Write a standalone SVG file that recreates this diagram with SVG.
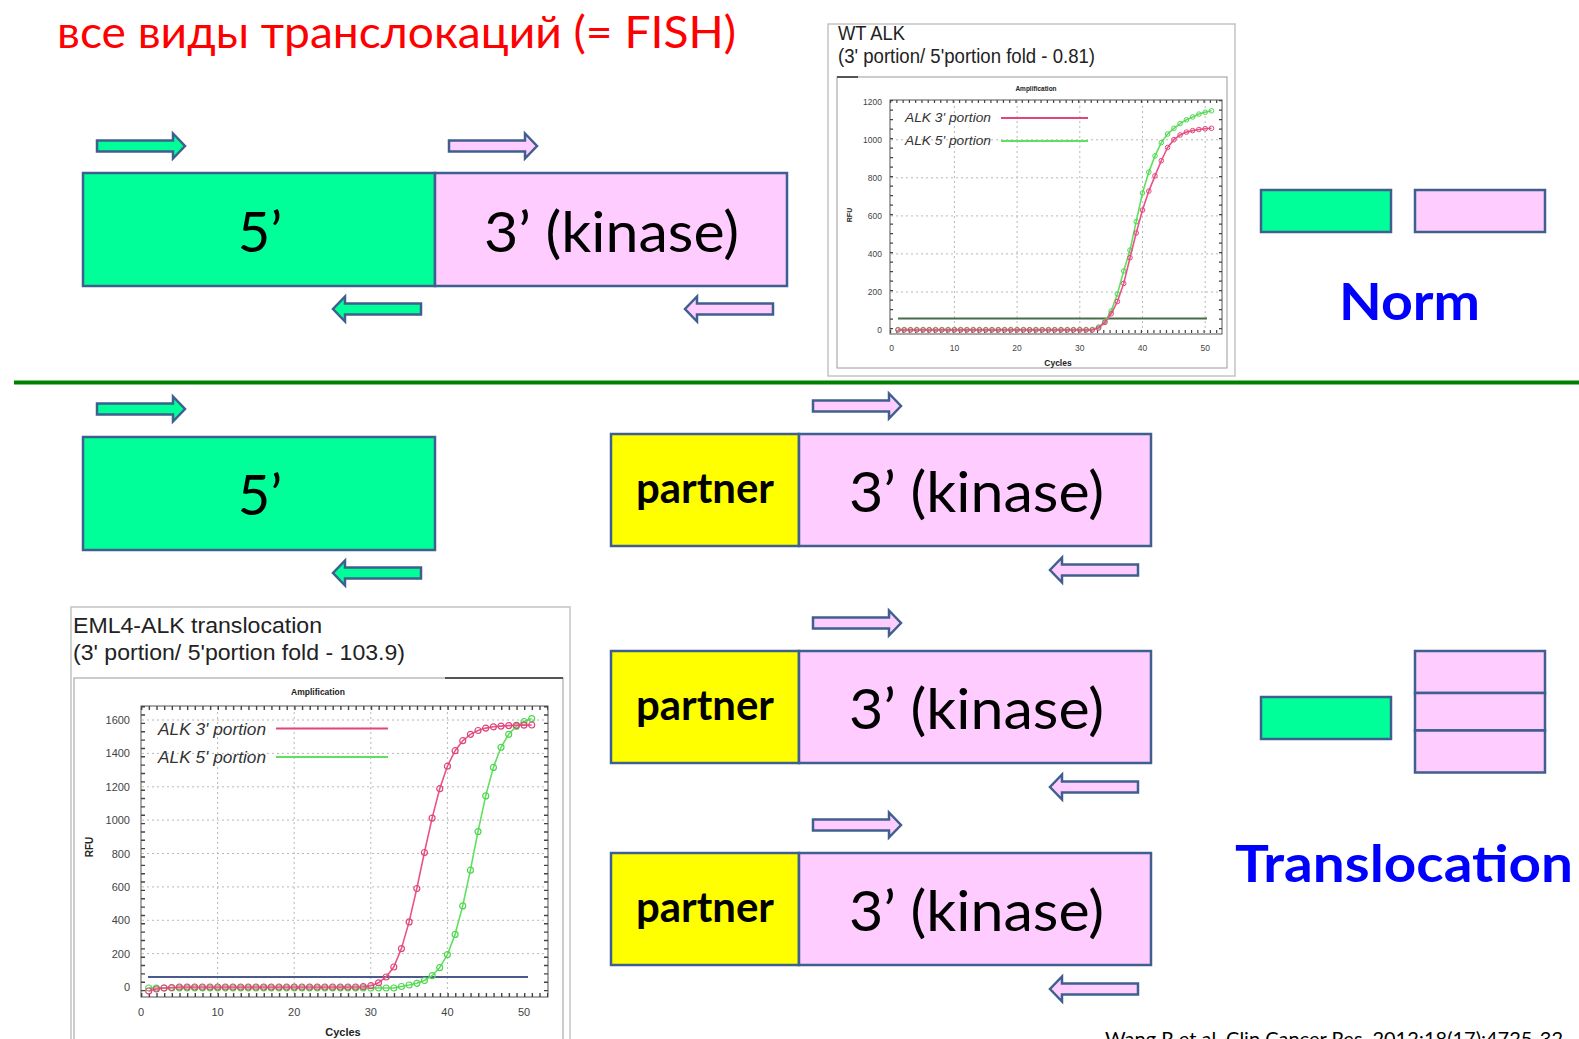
<svg xmlns="http://www.w3.org/2000/svg" xmlns:xlink="http://www.w3.org/1999/xlink" width="1579" height="1039" viewBox="0 0 1579 1039">
  <style>
    .g{fill:#00FF99}
    .p{fill:#FFCCFF}
    .y{fill:#FFFF00}
    .box{stroke:#3f5f8f;stroke-width:2.5}
    .arrow{stroke:#3f5f8f;stroke-width:2.5;stroke-linejoin:miter}
    .big{font-family:Lato,'Noto Sans',sans-serif;font-size:56px;fill:#000}
    .partner{font-family:Lato,'Noto Sans',sans-serif;font-weight:bold;font-size:42px;fill:#000}
    .tag{font-family:Lato,'Noto Sans',sans-serif;font-weight:bold;font-size:52px;fill:#0000FF}
    .ax{font-family:'Liberation Sans',Arial,sans-serif;fill:#444}
    .cap{font-family:'Liberation Sans',Arial,sans-serif;fill:#222}
    .leg{font-family:'Liberation Sans',Arial,sans-serif;font-style:italic;fill:#333}
    .grid{stroke:#b8b8b8;stroke-width:1;stroke-dasharray:2 3;fill:none}
    .frame{fill:#fff;stroke:#c4c4c4;stroke-width:1.5}
    .plot{fill:none;stroke:#555;stroke-width:1}
    .c3{fill:none;stroke:#e8538a;stroke-width:1.6}
    .c5{fill:none;stroke:#5fe05f;stroke-width:1.6}
  </style>
  <defs>
    <path id="arR" d="M-88,-5.5H-12V-12.5L0,0L-12,12.5V5.5H-88Z"/>
    <path id="arL" d="M88,-5.5H12V-12.5L0,0L12,12.5V5.5H88Z"/>
    <marker id="dP" markerWidth="9" markerHeight="9" refX="4.5" refY="4.5" markerUnits="userSpaceOnUse">
      <circle cx="4.5" cy="4.5" r="3" fill="none" stroke="#e0457b" stroke-width="1.2"/>
    </marker>
    <marker id="dG" markerWidth="9" markerHeight="9" refX="4.5" refY="4.5" markerUnits="userSpaceOnUse">
      <circle cx="4.5" cy="4.5" r="3" fill="none" stroke="#4fd64f" stroke-width="1.2"/>
    </marker>
    <marker id="sP" markerWidth="7" markerHeight="7" refX="3.5" refY="3.5" markerUnits="userSpaceOnUse">
      <circle cx="3.5" cy="3.5" r="2.3" fill="none" stroke="#e0457b" stroke-width="1"/>
    </marker>
    <marker id="sG" markerWidth="7" markerHeight="7" refX="3.5" refY="3.5" markerUnits="userSpaceOnUse">
      <circle cx="3.5" cy="3.5" r="2.3" fill="none" stroke="#4fd64f" stroke-width="1"/>
    </marker>
  </defs>

  <rect width="1579" height="1039" fill="#fff"/>

  <!-- heading -->
  <g id="title">
    <text x="57" y="48" font-family="Lato,'Noto Sans','Open Sans',sans-serif" font-size="44" fill="#FF0000" textLength="679" lengthAdjust="spacingAndGlyphs">все виды транслокаций (= FISH)</text>
  </g>

  <!-- normal gene: 5' and 3' parts -->
  <g id="norm-5prime">
    <rect x="83" y="173" width="352" height="113" class="g box"/>
    <text x="260" y="252" class="big" text-anchor="middle">5’</text>
  </g>
  <g id="norm-3prime">
    <rect x="435" y="173" width="352" height="113" class="p box"/>
    <text x="484" y="252" class="big" textLength="255" lengthAdjust="spacingAndGlyphs">3’ (kinase)</text>
  </g>

  <!-- separator -->
  <line x1="14" y1="382.5" x2="1579" y2="382.5" stroke="#008000" stroke-width="4"/>

  <!-- translocated gene -->
  <g id="trans-5prime">
    <rect x="83" y="437" width="352" height="113" class="g box"/>
    <text x="260" y="515" class="big" text-anchor="middle">5’</text>
  </g>
  <g id="fusion-1">
    <rect x="611" y="434" width="188" height="112" class="y box"/>
    <rect x="799" y="434" width="352" height="112" class="p box"/>
    <text x="636" y="503" class="partner" textLength="138" lengthAdjust="spacingAndGlyphs">partner</text>
    <text x="849" y="512" class="big" textLength="255" lengthAdjust="spacingAndGlyphs">3’ (kinase)</text>
  </g>
  <g id="fusion-2">
    <rect x="611" y="651" width="188" height="112" class="y box"/>
    <rect x="799" y="651" width="352" height="112" class="p box"/>
    <text x="636" y="720" class="partner" textLength="138" lengthAdjust="spacingAndGlyphs">partner</text>
    <text x="849" y="729" class="big" textLength="255" lengthAdjust="spacingAndGlyphs">3’ (kinase)</text>
  </g>
  <g id="fusion-3">
    <rect x="611" y="853" width="188" height="112" class="y box"/>
    <rect x="799" y="853" width="352" height="112" class="p box"/>
    <text x="636" y="922" class="partner" textLength="138" lengthAdjust="spacingAndGlyphs">partner</text>
    <text x="849" y="931" class="big" textLength="255" lengthAdjust="spacingAndGlyphs">3’ (kinase)</text>
  </g>

  <!-- primer arrows -->
  <g id="primers">
    <use xlink:href="#arR" x="185" y="146" class="g arrow"/>
    <use xlink:href="#arR" x="537" y="146" class="p arrow"/>
    <use xlink:href="#arL" x="333" y="309" class="g arrow"/>
    <use xlink:href="#arL" x="685" y="309" class="p arrow"/>
    <use xlink:href="#arR" x="185" y="409" class="g arrow"/>
    <use xlink:href="#arL" x="333" y="573" class="g arrow"/>
    <use xlink:href="#arR" x="901" y="406" class="p arrow"/>
    <use xlink:href="#arL" x="1050" y="570" class="p arrow"/>
    <use xlink:href="#arR" x="901" y="623" class="p arrow"/>
    <use xlink:href="#arL" x="1050" y="787" class="p arrow"/>
    <use xlink:href="#arR" x="901" y="825" class="p arrow"/>
    <use xlink:href="#arL" x="1050" y="989" class="p arrow"/>
  </g>

  <!-- copy-number summary, normal -->
  <g id="norm-summary">
    <rect x="1261" y="190" width="130" height="42" class="g box" stroke-width="3"/>
    <rect x="1415" y="190" width="130" height="42" class="p box" stroke-width="3"/>
    <text x="1339" y="320" class="tag" textLength="141" lengthAdjust="spacingAndGlyphs">Norm</text>
  </g>

  <!-- copy-number summary, translocation -->
  <g id="trans-summary">
    <rect x="1261" y="697" width="130" height="42" class="g box" stroke-width="3"/>
    <rect x="1415" y="651" width="130" height="42" class="p box" stroke-width="3"/>
    <rect x="1415" y="693" width="130" height="37.5" class="p box" stroke-width="3"/>
    <rect x="1415" y="730.5" width="130" height="42" class="p box" stroke-width="3"/>
    <text x="1235" y="882" class="tag" textLength="338" lengthAdjust="spacingAndGlyphs">Translocation</text>
  </g>

  <!-- qPCR chart: wild-type ALK -->
  <g id="chart-wt">
    <rect x="828" y="24" width="407" height="352" class="frame"/>
    <text x="838" y="40" class="cap" font-size="20" textLength="67" lengthAdjust="spacingAndGlyphs">WT ALK</text>
    <text x="838" y="63" class="cap" font-size="20" textLength="257" lengthAdjust="spacingAndGlyphs">(3' portion/ 5'portion fold - 0.81)</text>
    <rect x="837" y="77" width="390" height="291" fill="#fff" stroke="#999" stroke-width="1"/>
    <line x1="837" y1="77" x2="858" y2="77" stroke="#555" stroke-width="2"/>
    <text x="1036" y="91" class="cap" font-size="6.5" font-weight="bold" text-anchor="middle">Amplification</text>
    <g class="grid">
      <path d="M954.4,101V332M1017.1,101V332M1079.8,101V332M1142.5,101V332M1205.2,101V332"/>
      <path d="M891,139.8H1222M891,177.8H1222M891,215.9H1222M891,253.9H1222M891,292H1222"/>
    </g>
    <rect x="890" y="100" width="332" height="234" class="plot"/>
    <line x1="890" y1="331.5" x2="1222" y2="331.5" stroke="#444" stroke-width="3" stroke-dasharray="1.2 5.07"/>
    <line x1="891.5" y1="100" x2="891.5" y2="334" stroke="#444" stroke-width="3" stroke-dasharray="1.2 8.3"/>
    <line x1="1220.5" y1="100" x2="1220.5" y2="334" stroke="#444" stroke-width="3" stroke-dasharray="1.2 8.3"/>
    <line x1="890" y1="101.5" x2="1222" y2="101.5" stroke="#444" stroke-width="3" stroke-dasharray="1.2 5.07"/>
    <g class="ax" font-size="8.5" text-anchor="end">
      <text x="882" y="104.5">1200</text>
      <text x="882" y="142.6">1000</text>
      <text x="882" y="180.6">800</text>
      <text x="882" y="218.7">600</text>
      <text x="882" y="256.7">400</text>
      <text x="882" y="294.8">200</text>
      <text x="882" y="332.8">0</text>
    </g>
    <g class="ax" font-size="8.5" text-anchor="middle">
      <text x="891.7" y="351">0</text>
      <text x="954.4" y="351">10</text>
      <text x="1017.1" y="351">20</text>
      <text x="1079.8" y="351">30</text>
      <text x="1142.5" y="351">40</text>
      <text x="1205.2" y="351">50</text>
    </g>
    <text x="1058" y="366" class="cap" font-size="8.5" font-weight="bold" text-anchor="middle">Cycles</text>
    <text transform="translate(852,215) rotate(-90)" class="cap" font-size="7" font-weight="bold" text-anchor="middle">RFU</text>
    <text x="905" y="122" class="leg" font-size="13.5" textLength="86" lengthAdjust="spacingAndGlyphs">ALK 3' portion</text>
    <line x1="1001" y1="118" x2="1088" y2="118" stroke="#e0457b" stroke-width="2"/>
    <text x="905" y="145" class="leg" font-size="13.5" textLength="86" lengthAdjust="spacingAndGlyphs">ALK 5' portion</text>
    <line x1="1001" y1="141" x2="1088" y2="141" stroke="#5fe05f" stroke-width="2"/>
    <line x1="898" y1="318.5" x2="1207" y2="318.5" stroke="#4b6b4b" stroke-width="2"/>
    <polyline class="c5" marker-start="url(#sG)" marker-mid="url(#sG)" marker-end="url(#sG)" points="898,329.5 904.2,329.5 910.5,329.5 916.8,329.5 923.1,329.5 929.3,329.5 935.6,329.5 941.9,329.5 948.1,329.5 954.4,329.5 960.7,329.5 966.9,329.5 973.2,329.5 979.5,329.5 985.8,329.5 992,329.5 998.3,329.5 1004.6,329.5 1010.8,329.5 1017.1,329.5 1023.4,329.5 1029.6,329.5 1035.9,329.5 1042.2,329.5 1048.5,329.5 1054.7,329.5 1061,329.5 1067.3,329.5 1073.5,329.5 1079.8,329.5 1086.1,329.5 1092.3,329.5 1098.6,327.1 1104.9,321.4 1111.2,311 1117.4,293.9 1123.7,271 1130,250.1 1136.2,221.6 1142.5,193 1148.8,172.1 1155,155.9 1161.3,142.6 1167.6,134 1173.9,128.3 1180.1,123.6 1186.4,119.8 1192.7,116.9 1198.9,114.1 1205.2,112.2 1211.5,110.8"/>
    <polyline class="c3" marker-start="url(#sP)" marker-mid="url(#sP)" marker-end="url(#sP)" points="898,330 904.2,330 910.5,330 916.8,330 923.1,330 929.3,330 935.6,330 941.9,330 948.1,330 954.4,330 960.7,330 966.9,330 973.2,330 979.5,330 985.8,330 992,330 998.3,330 1004.6,330 1010.8,330 1017.1,330 1023.4,330 1029.6,330 1035.9,330 1042.2,330 1048.5,330 1054.7,330 1061,330 1067.3,330 1073.5,330 1079.8,330 1086.1,330 1092.3,330 1098.6,328.1 1104.9,322.4 1111.2,313.8 1117.4,301.5 1123.7,283.4 1130,257.7 1136.2,233 1142.5,210.1 1148.8,191.1 1155,175.9 1161.3,160.7 1167.6,147.4 1173.9,139.7 1180.1,135 1186.4,132.1 1192.7,130.6 1198.9,129.5 1205.2,128.7 1211.5,128.3"/>
  </g>

  <!-- qPCR chart: EML4-ALK translocation -->
  <g id="chart-eml4">
    <rect x="71" y="607" width="499" height="450" class="frame"/>
    <text x="73" y="633" class="cap" font-size="22" textLength="249" lengthAdjust="spacingAndGlyphs">EML4-ALK translocation</text>
    <text x="73" y="660" class="cap" font-size="22" textLength="332" lengthAdjust="spacingAndGlyphs">(3' portion/ 5'portion fold - 103.9)</text>
    <rect x="74" y="678" width="489" height="380" fill="#fff" stroke="#999" stroke-width="1"/>
    <line x1="445" y1="678" x2="563" y2="678" stroke="#555" stroke-width="2"/>
    <text x="318" y="695" class="cap" font-size="8.5" font-weight="bold" text-anchor="middle">Amplification</text>
    <g class="grid">
      <path d="M217.6,707V996M294.2,707V996M370.8,707V996M447.4,707V996"/>
      <path d="M142,720H547M142,753.4H547M142,786.8H547M142,820.1H547M142,853.5H547M142,886.9H547M142,920.3H547M142,953.6H547"/>
    </g>
    <rect x="141" y="706" width="407" height="291" class="plot"/>
    <line x1="141" y1="995" x2="548" y2="995" stroke="#444" stroke-width="4" stroke-dasharray="1.4 6.26"/>
    <line x1="141" y1="708" x2="548" y2="708" stroke="#444" stroke-width="4" stroke-dasharray="1.4 6.26"/>
    <line x1="143" y1="706" x2="143" y2="997" stroke="#444" stroke-width="4" stroke-dasharray="1.4 6.95"/>
    <line x1="546" y1="706" x2="546" y2="997" stroke="#444" stroke-width="4" stroke-dasharray="1.4 6.95"/>
    <g class="ax" font-size="11" text-anchor="end">
      <text x="130" y="724">1600</text>
      <text x="130" y="757.4">1400</text>
      <text x="130" y="790.8">1200</text>
      <text x="130" y="824.1">1000</text>
      <text x="130" y="857.5">800</text>
      <text x="130" y="890.9">600</text>
      <text x="130" y="924.3">400</text>
      <text x="130" y="957.6">200</text>
      <text x="130" y="991">0</text>
    </g>
    <g class="ax" font-size="11" text-anchor="middle">
      <text x="141" y="1016">0</text>
      <text x="217.6" y="1016">10</text>
      <text x="294.2" y="1016">20</text>
      <text x="370.8" y="1016">30</text>
      <text x="447.4" y="1016">40</text>
      <text x="524" y="1016">50</text>
    </g>
    <text x="343" y="1036" class="cap" font-size="11" font-weight="bold" text-anchor="middle">Cycles</text>
    <text transform="translate(93,847) rotate(-90)" class="cap" font-size="10" font-weight="bold" text-anchor="middle">RFU</text>
    <text x="158" y="735" class="leg" font-size="17" textLength="108" lengthAdjust="spacingAndGlyphs">ALK 3' portion</text>
    <line x1="276" y1="728.5" x2="388" y2="728.5" stroke="#e0457b" stroke-width="2.2"/>
    <text x="158" y="763" class="leg" font-size="17" textLength="108" lengthAdjust="spacingAndGlyphs">ALK 5' portion</text>
    <line x1="276" y1="757" x2="388" y2="757" stroke="#5fe05f" stroke-width="2.2"/>
    <line x1="148" y1="977" x2="528" y2="977" stroke="#4a5a8a" stroke-width="2.2"/>
    <polyline class="c5" marker-start="url(#dG)" marker-mid="url(#dG)" marker-end="url(#dG)" points="148.7,988 156.3,988 164,988 171.6,988 179.3,988 187,988 194.6,988 202.3,988 209.9,988 217.6,988 225.3,988 232.9,988 240.6,988 248.2,988 255.9,988 263.6,988 271.2,988 278.9,988 286.5,988 294.2,988 301.9,988 309.5,988 317.2,988 324.8,988 332.5,988 340.2,988 347.8,988 355.5,988 363.1,988 370.8,988 378.5,988 386.1,988 393.8,988 401.4,986.5 409.1,985 416.8,983.3 424.4,980.5 432.1,975.7 439.7,967.6 447.4,954.6 455.1,934.4 462.7,905.9 470.4,870.2 478,831.6 485.7,795.9 493.4,767.4 501,747.3 508.7,734.3 516.3,726.3 524,721.5 531.7,718.6"/>
    <polyline class="c3" marker-start="url(#dP)" marker-mid="url(#dP)" marker-end="url(#dP)" points="148.7,991 156.3,989 164,988 171.6,987.5 179.3,987 187,987 194.6,987 202.3,987 209.9,987 217.6,987 225.3,987 232.9,987 240.6,987 248.2,987 255.9,987 263.6,987 271.2,987 278.9,987 286.5,987 294.2,987 301.9,987 309.5,987 317.2,987 324.8,987 332.5,987 340.2,987 347.8,987 355.5,987 363.1,986.7 370.8,985.7 378.5,982.8 386.1,977 393.8,967 401.4,948.6 409.1,921.9 416.8,888.5 424.4,852.5 432.1,818.1 439.7,788.7 447.4,766.2 455.1,750.7 462.7,740.7 470.4,734.3 478,730.5 485.7,728.1 493.4,726.8 501,726.1 508.7,725.6 516.3,725.3 524,725.1 531.7,725"/>
  </g>

  <!-- reference line along the lower edge -->
  <g id="citation">
    <text x="1105" y="1046" font-family="Lato,'Liberation Sans',sans-serif" font-size="19" fill="#000" textLength="458" lengthAdjust="spacingAndGlyphs">Wang R et al. Clin Cancer Res. 2012;18(17):4725-32</text>
  </g>
</svg>
